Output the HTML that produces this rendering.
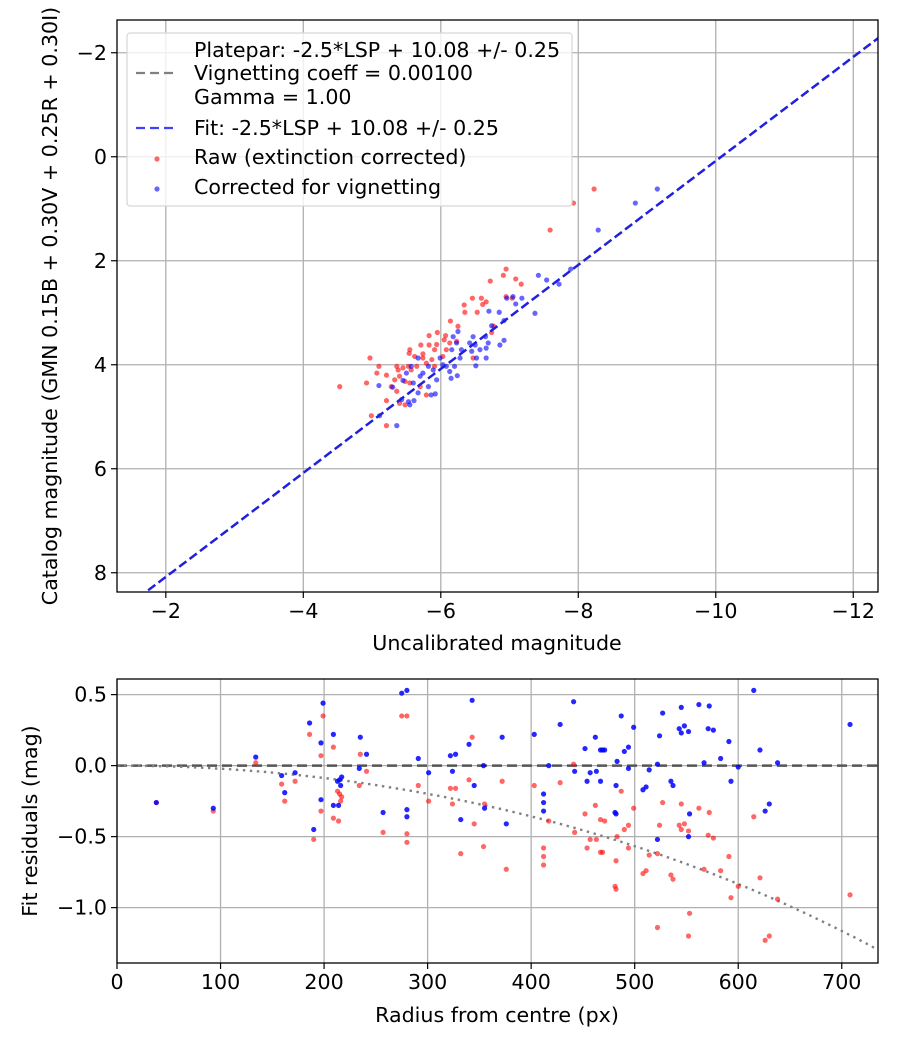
<!DOCTYPE html>
<html><head><meta charset="utf-8"><style>
html,body{margin:0;padding:0;background:#fff;}
svg{display:block;font-family:"DejaVu Sans","Liberation Sans",sans-serif;}
</style></head><body>
<svg id="chart" width="900" height="1050" viewBox="0 0 900 1050" xmlns="http://www.w3.org/2000/svg"></svg>
<script>
// ---- Top chart data ----
const topXTicks = [-2,-4,-6,-8,-10,-12];
const topYTicks = [-2,0,2,4,6,8];
const rawX = [-8.23,-7.59,-7.93,-6.95,-6.91,-6.72,-7.09,-7.17,-6.46,-6.59,-6.66,-6.61,-6.34,-6.35,-6.53,-6.95,-7.04,-6.14,-6.25,-5.83,-5.95,-6.07,-6.05,-5.94,-5.83,-5.71,-5.55,-5.54,-5.74,-5.91,-6.13,-6.23,-4.97,-5.10,-5.07,-5.21,-5.36,-5.38,-5.45,-5.53,-5.57,-5.65,-5.74,-5.79,-5.87,-5.91,-5.40,-5.33,-5.48,-5.55,-5.70,-5.28,-5.36,-4.92,-5.21,-5.40,-5.48,-5.79,-4.99,-5.21,-4.53,-6.03,-6.47,-5.62,-6.08,-6.74,-6.77];
const rawY = [0.62,1.41,0.89,2.16,2.28,2.39,2.35,2.45,2.72,2.72,2.79,2.84,2.85,2.99,2.99,2.69,2.72,3.16,3.26,3.44,3.38,3.44,3.52,3.61,3.62,3.62,3.71,3.78,3.79,3.71,3.58,3.55,3.87,4.03,4.16,4.20,4.03,4.10,4.06,4.03,4.10,4.03,3.87,3.97,3.90,4.03,4.22,4.29,4.32,4.35,4.42,4.42,4.51,4.35,4.69,4.74,4.77,4.58,4.98,5.17,4.42,3.84,3.87,3.84,3.71,3.38,3.26];
const corX = [-9.15,-8.83,-8.29,-7.89,-7.42,-7.54,-7.72,-6.96,-7.05,-7.09,-7.18,-7.37,-6.70,-6.85,-6.74,-6.92,-6.92,-6.86,-6.65,-6.69,-6.50,-6.57,-6.47,-6.42,-6.45,-6.66,-6.52,-6.51,-6.25,-6.18,-6.23,-6.16,-6.28,-6.20,-6.13,-6.24,-6.15,-5.99,-6.03,-5.94,-5.89,-5.82,-5.74,-5.67,-5.70,-5.57,-5.50,-5.45,-5.60,-5.82,-5.92,-5.86,-5.67,-5.43,-5.53,-5.61,-5.55,-5.30,-5.10,-5.11,-5.36,-6.08,-6.66,-6.30];
const corY = [0.62,0.89,1.41,2.16,2.28,2.37,2.45,2.72,2.69,2.83,2.72,3.01,2.97,2.99,3.25,3.15,3.53,3.62,3.46,3.58,3.62,3.71,3.46,3.58,3.74,3.87,3.87,4.02,3.36,3.46,3.58,3.71,3.87,4.03,4.13,4.21,4.26,3.87,4.00,4.29,4.10,4.03,4.16,3.87,4.22,4.03,4.16,4.30,4.35,4.42,4.56,4.58,4.54,4.67,4.71,4.69,4.77,4.43,4.40,4.98,5.17,4.03,3.68,3.71];
const fitIntercept = 10.08;
// ---- Bottom chart data ----
const botXTicks = [0,100,200,300,400,500,600,700];
const botYTicks = [0.5,0.0,-0.5,-1.0];
const resRadius = [38,93,134,159,162,172,186,190,197,199,197,209,209,214,213,215,217,216,234,235,241,257,275,280,280,280,291,301,322,324,327,332,340,343,345,354,355,372,376,403,412,412,412,417,428,441,442,452,454,457,462,463,467,469,471,467,481,482,482,483,487,490,494,494,499,508,511,514,522,522,524,527,535,537,543,545,545,548,552,553,552,562,567,571,572,576,583,591,593,600,615,621,626,630,638,708];
const resCorrected = [-0.26,-0.30,0.06,-0.07,-0.19,-0.05,0.30,-0.45,0.16,0.44,-0.24,0.22,-0.28,-0.28,-0.11,-0.10,-0.08,-0.14,-0.02,0.20,0.08,-0.33,0.51,0.53,-0.31,-0.36,0.05,-0.05,0.07,-0.04,0.08,-0.38,0.15,0.46,-0.14,0.00,-0.30,0.20,-0.41,0.22,-0.20,-0.26,-0.32,0.00,0.29,0.45,-0.04,0.12,-0.11,-0.05,0.20,-0.04,0.11,0.11,0.11,-0.11,-0.33,-0.34,-0.14,0.03,0.35,0.10,0.13,-0.02,0.27,-0.17,-0.15,-0.03,0.01,-0.52,0.21,0.37,-0.11,-0.14,0.26,0.23,0.41,0.28,0.24,-0.34,-0.50,0.43,0.02,0.26,0.42,0.25,0.05,0.17,-0.11,-0.01,0.53,0.11,-0.32,-0.27,0.02,0.29];
const resRaw = [-0.26,-0.32,0.02,-0.13,-0.25,-0.11,0.22,-0.52,0.07,0.35,-0.32,0.13,-0.37,-0.39,-0.18,-0.20,-0.22,-0.25,-0.14,0.08,-0.04,-0.47,0.35,0.35,-0.48,-0.54,-0.14,-0.25,-0.16,-0.27,-0.16,-0.62,-0.10,0.20,-0.41,-0.57,-0.27,-0.11,-0.73,-0.14,-0.58,-0.64,-0.70,-0.39,-0.12,0.01,-0.47,-0.34,-0.58,-0.52,-0.28,-0.52,-0.38,-0.61,-0.39,-0.61,-0.85,-0.87,-0.67,-0.50,-0.18,-0.45,-0.42,-0.58,-0.30,-0.76,-0.74,-0.63,-0.62,-1.14,-0.42,-0.26,-0.77,-0.80,-0.42,-0.45,-0.27,-0.41,-0.46,-1.04,-1.20,-0.30,-0.73,-0.49,-0.33,-0.51,-0.74,-0.64,-0.93,-0.85,-0.36,-0.79,-1.23,-1.20,-0.94,-0.91];
const vignCoeff = 0.001;

const NS = "http://www.w3.org/2000/svg";
const svg = document.getElementById('chart');
function mk(tag, attrs, parent){const e=document.createElementNS(NS,tag);for(const k in attrs)e.setAttribute(k,attrs[k]);(parent||svg).appendChild(e);return e;}

const T = {l:117,r:878,t:20,b:592,x0:-1.29,x1:-12.36,y0:-2.63,y1:8.37};
const B = {l:117,r:878,t:679,b:963,x0:0,x1:735,y0:0.61,y1:-1.39};
const tx = v => T.l + (v - T.x0) / (T.x1 - T.x0) * (T.r - T.l);
const ty = v => T.t + (v - T.y0) / (T.y1 - T.y0) * (T.b - T.t);
const bx = v => B.l + (v - B.x0) / (B.x1 - B.x0) * (B.r - B.l);
const by = v => B.t + (v - B.y0) / (B.y1 - B.y0) * (B.b - B.t);

const FS = 20.6;
function fmt(v){return (v<0?'\u2212':'')+Math.abs(v);}

// ===== TOP =====
const gT = mk('g',{});


mk('defs',{}).innerHTML='<clipPath id="ct"><rect x="117" y="20" width="761" height="572"/></clipPath><clipPath id="cb"><rect x="117" y="679" width="761" height="284"/></clipPath>';
topXTicks.forEach(v=>{
  const x=tx(v);
  const g=mk('line',{x1:x,x2:x,y1:T.t,y2:T.b,stroke:'#b0b0b0','stroke-width':1.3},gT);
  
  
  mk('line',{x1:x,x2:x,y1:T.b,y2:T.b+6,stroke:'#000','stroke-width':1.2},gT);
  const t=mk('text',{x:x,y:T.b+26,'font-size':FS,'text-anchor':'middle'},gT);
  
  
  t.textContent=fmt(v);
});
topYTicks.forEach(v=>{
  const y=ty(v);
  const g=mk('line',{x1:T.l,x2:T.r,y1:y,y2:y,stroke:'#b0b0b0','stroke-width':1.3},gT);
  
  
  mk('line',{x1:T.l-6,x2:T.l,y1:y,y2:y,stroke:'#000','stroke-width':1.2},gT);
  const t=mk('text',{x:T.l-10,y:y+7,'font-size':FS,'text-anchor':'end'},gT);
  
  
  t.textContent=fmt(v);
});
const ptsT = mk('g',{'clip-path':'url(#ct)'},gT);
rawX.forEach((v,i)=>{
  const c=mk('circle',{cx:tx(v),cy:ty(rawY[i]),r:2.6,fill:'rgba(255,0,0,0.6)'},ptsT);
  
  
});
corX.forEach((v,i)=>{
  const c=mk('circle',{cx:tx(v),cy:ty(corY[i]),r:2.6,fill:'rgba(0,0,255,0.6)'},ptsT);
  
  
});
const fl=mk('line',{x1:tx(T.x0),y1:ty(T.x0+fitIntercept),x2:tx(T.x1),y2:ty(T.x1+fitIntercept),stroke:'#2020dd','stroke-width':2.5,'stroke-dasharray':'9,4'},ptsT);


mk('rect',{x:T.l,y:T.t,width:T.r-T.l,height:T.b-T.t,fill:'none',stroke:'#000','stroke-width':1.3},gT);
// legend
const lg=mk('g',{},gT);


mk('rect',{x:127,y:33,width:445,height:173,rx:3,fill:'rgba(255,255,255,0.8)',stroke:'#d6d6d6','stroke-width':1.2},lg);
mk('line',{x1:136,x2:178,y1:73,y2:73,stroke:'#808080','stroke-width':2.2,'stroke-dasharray':'9,5'},lg);
mk('line',{x1:136,x2:178,y1:128,y2:128,stroke:'#4040ff','stroke-width':2.2,'stroke-dasharray':'9,5'},lg);
mk('circle',{cx:157,cy:159,r:2.6,fill:'rgba(255,0,0,0.6)'},lg);
mk('circle',{cx:157,cy:189,r:2.6,fill:'rgba(0,0,255,0.6)'},lg);
[['Platepar: -2.5*LSP + 10.08 +/- 0.25',57],['Vignetting coeff = 0.00100',80],['Gamma = 1.00',104],['Fit: -2.5*LSP + 10.08 +/- 0.25',135],['Raw (extinction corrected)',164],['Corrected for vignetting',194]].forEach(([s,y])=>{
  const t=mk('text',{x:194,y:y,'font-size':FS},lg);
  
  
  t.textContent=s;
});
let t1=mk('text',{x:497,y:650,'font-size':FS,'text-anchor':'middle'});


t1.textContent='Uncalibrated magnitude';
let t2=mk('text',{x:0,y:0,'font-size':FS,'text-anchor':'middle',transform:'translate(57,306) rotate(-90)'});


t2.textContent='Catalog magnitude (GMN 0.15B + 0.30V + 0.25R + 0.30I)';

// ===== BOTTOM =====
const gB = mk('g',{});


botXTicks.forEach(v=>{
  const x=bx(v);
  const g=mk('line',{x1:x,x2:x,y1:B.t,y2:B.b,stroke:'#b0b0b0','stroke-width':1.3},gB);
  
  
  mk('line',{x1:x,x2:x,y1:B.b,y2:B.b+6,stroke:'#000','stroke-width':1.2},gB);
  const t=mk('text',{x:x,y:B.b+26,'font-size':FS,'text-anchor':'middle'},gB);
  
  
  t.textContent=String(v);
});
botYTicks.forEach(v=>{
  const y=by(v);
  const g=mk('line',{x1:B.l,x2:B.r,y1:y,y2:y,stroke:'#b0b0b0','stroke-width':1.3},gB);
  
  
  mk('line',{x1:B.l-6,x2:B.l,y1:y,y2:y,stroke:'#000','stroke-width':1.2},gB);
  const t=mk('text',{x:B.l-10,y:y+7,'font-size':FS,'text-anchor':'end'},gB);
  
  
  t.textContent=fmt(v).replace(/^(\u2212?)(\d)$/,'$1$2.0');
});
const ptsB = mk('g',{'clip-path':'url(#cb)'},gB);
const zl=mk('line',{x1:B.l,x2:B.r,y1:by(0),y2:by(0),stroke:'#555','stroke-width':2.4,'stroke-dasharray':'10,5'},ptsB);


let d='';
for(let r=0;r<=735;r+=3){const c=Math.cos(vignCoeff*r);const m=2.5*Math.log10(Math.pow(c,4));d+=(r?'L':'M')+bx(r).toFixed(1)+','+by(m).toFixed(1);}
const vc=mk('path',{d:d,fill:'none',stroke:'#808080','stroke-width':2.4,'stroke-dasharray':'2.4,4.6'},ptsB);


resRadius.forEach((v,i)=>{
  const c=mk('circle',{cx:bx(v),cy:by(resRaw[i]),r:2.6,fill:'rgba(255,0,0,0.6)'},ptsB);
  
  
});
resRadius.forEach((v,i)=>{
  const c=mk('circle',{cx:bx(v),cy:by(resCorrected[i]),r:2.6,fill:'rgba(0,0,255,0.85)'},ptsB);
  
  
});
mk('rect',{x:B.l,y:B.t,width:B.r-B.l,height:B.b-B.t,fill:'none',stroke:'#000','stroke-width':1.3},gB);
let t3=mk('text',{x:497,y:1022,'font-size':FS,'text-anchor':'middle'});


t3.textContent='Radius from centre (px)';
let t4=mk('text',{x:0,y:0,'font-size':FS,'text-anchor':'middle',transform:'translate(37,821) rotate(-90)'});


t4.textContent='Fit residuals (mag)';
</script>
</body></html>
